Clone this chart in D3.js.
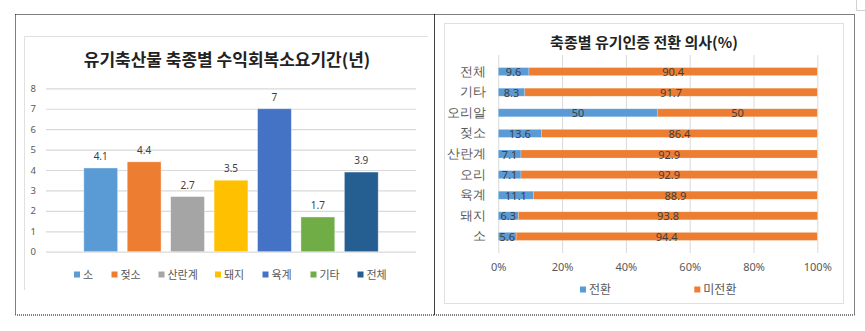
<!DOCTYPE html>
<html>
<head>
<meta charset="utf-8">
<script src="https://cdn.jsdelivr.net/npm/d3@7"></script>
<style>
  html, body { margin: 0; padding: 0; background: #fff; }
  svg { display: block; font-family: "Noto Sans CJK KR", "Noto Sans", sans-serif; }
</style>
</head>
<body>
<svg id="chart" width="865" height="331"></svg>
<script>
// Left chart: years needed to recover income, by livestock type
const recoveryCategories = ["소", "젖소", "산란계", "돼지", "육계", "기타", "전체"];
const recoveryYears = [4.1, 4.4, 2.7, 3.5, 7, 1.7, 3.9];
const recoveryColors = ["#5B9BD5", "#ED7D31", "#A5A5A5", "#FFC000", "#4472C4", "#70AD47", "#255E91"];
const recoveryTicks = [0, 1, 2, 3, 4, 5, 6, 7, 8];

// Right chart: intention to convert to organic certification (%)
const intentCategories = ["전체", "기타", "오리알", "젖소", "산란계", "오리", "육계", "돼지", "소"];
const convertPct = [9.6, 8.3, 50, 13.6, 7.1, 7.1, 11.1, 6.3, 5.6];
const notConvertPct = [90.4, 91.7, 50, 86.4, 92.9, 92.9, 88.9, 93.8, 94.4];
const intentSeries = ["전환", "미전환"];
const intentColors = ["#5B9BD5", "#ED7D31"];
const pctTicks = [0, 20, 40, 60, 80, 100];

const svg = d3.select("#chart");
const textGray = "#595959";
const labelGray = "#404040";
const gridGray = "#d9d9d9";

// Dotted outer frames
const frame = svg.append("g").attr("fill", "none").attr("stroke", "#000")
  .attr("stroke-width", 1).attr("stroke-dasharray", "1,1");
frame.append("rect").attr("x", 15.5).attr("y", 14.5).attr("width", 419).attr("height", 300.5);
frame.append("rect").attr("x", 434.5).attr("y", 14.5).attr("width", 420).attr("height", 300.5);

// small corner mark at top right
svg.append("path").attr("d", "M856.5,0 V10.5 H865").attr("fill", "none").attr("stroke", "#d0d0d0");

// ---------- Left chart ----------
const L = svg.append("g");
L.append("path").attr("d", "M24.5,290 V36.5 H428").attr("fill", "none").attr("stroke", "#e0e0e0");

L.append("text").attr("x", 227).attr("y", 66).attr("text-anchor", "middle")
  .attr("font-size", 17).attr("font-weight", "bold").attr("fill", "#222")
  .text("유기축산물 축종별 수익회복소요기간(년)");

const yL = d3.scaleLinear().domain([0, 8]).range([251.7, 88.3]);
const xL = d3.scaleBand().domain(recoveryCategories).range([46, 416])
  .paddingInner(0.22).paddingOuter(0.87);

const yAxisL = L.append("g").attr("transform", "translate(46,0)")
  .call(d3.axisLeft(yL).tickValues(recoveryTicks).tickSize(-370).tickFormat(d3.format("d")));
yAxisL.select(".domain").remove();
yAxisL.selectAll(".tick line").attr("stroke", gridGray).attr("stroke-width", 1.2);
yAxisL.selectAll(".tick text").attr("x", -10).attr("fill", textGray)
  .attr("font-size", 9.5).attr("font-family", "Noto Sans, sans-serif");

L.append("g").selectAll("rect").data(recoveryYears).join("rect")
  .attr("x", (d, i) => xL(recoveryCategories[i]))
  .attr("y", d => yL(d))
  .attr("width", xL.bandwidth())
  .attr("height", d => yL(0) - yL(d))
  .attr("fill", (d, i) => recoveryColors[i])
  .attr("stroke", "#fff").attr("stroke-opacity", 0.5).attr("stroke-width", 0.8);

L.append("g").selectAll("text").data(recoveryYears).join("text")
  .attr("x", (d, i) => xL(recoveryCategories[i]) + xL.bandwidth() / 2)
  .attr("y", d => yL(d) - 8)
  .attr("text-anchor", "middle").attr("font-size", 10)
  .attr("font-family", "Noto Sans, sans-serif").attr("fill", labelGray)
  .text(d => d);

const legL = L.append("g");
const legLx = [74, 111.5, 158.5, 215, 262.5, 310.5, 357.5];
recoveryCategories.forEach((c, i) => {
  const g = legL.append("g").attr("transform", `translate(${legLx[i]},274.5)`);
  g.append("rect").attr("x", 0).attr("y", -3).attr("width", 6).attr("height", 6).attr("fill", recoveryColors[i]);
  g.append("text").attr("x", 9).attr("y", 4).attr("font-size", 11).attr("fill", textGray).text(c);
});

// ---------- Right chart ----------
const R = svg.append("g");
R.append("rect").attr("x", 444.5).attr("y", 23.5).attr("width", 399).attr("height", 280)
  .attr("fill", "none").attr("stroke", "#e0e0e0");

R.append("text").attr("x", 644).attr("y", 48).attr("text-anchor", "middle")
  .attr("font-size", 15).attr("font-weight", "bold").attr("fill", "#222")
  .text("축종별 유기인증 전환 의사(%)");

const xR = d3.scaleLinear().domain([0, 100]).range([498.3, 817.3]);
const yR = d3.scaleBand().domain(intentCategories).range([55, 253]).padding(0.61);

const xAxisR = R.append("g").attr("transform", "translate(0,253)")
  .call(d3.axisBottom(xR).tickValues(pctTicks).tickSize(-198).tickFormat(d => d + "%"));
xAxisR.select(".domain").remove();
xAxisR.selectAll(".tick line").attr("stroke", gridGray).attr("stroke-width", 1);
xAxisR.selectAll(".tick text").attr("y", 10).attr("fill", textGray)
  .attr("font-size", 11).attr("font-family", "Noto Sans, sans-serif");

const stackData = intentCategories.map((c, i) => ({ cat: c, "전환": convertPct[i], "미전환": notConvertPct[i] }));
const stacked = d3.stack().keys(intentSeries)(stackData);

const layers = R.append("g").selectAll("g").data(stacked).join("g")
  .attr("fill", (d, i) => intentColors[i]);
layers.selectAll("rect").data(d => d).join("rect")
  .attr("x", d => xR(d[0]))
  .attr("y", d => yR(d.data.cat))
  .attr("width", d => xR(d[1]) - xR(d[0]))
  .attr("height", yR.bandwidth())
  .attr("stroke", "#fff").attr("stroke-opacity", 0.35).attr("stroke-width", 0.6);

layers.selectAll("text").data(d => d.map(v => ({ v, key: d.key }))).join("text")
  .attr("x", d => (xR(d.v[0]) + xR(d.v[1])) / 2)
  .attr("y", d => yR(d.v.data.cat) + yR.bandwidth() / 2 + 4.5)
  .attr("text-anchor", "middle").attr("font-size", 11)
  .attr("font-family", "Noto Sans, sans-serif").attr("fill", labelGray)
  .text(d => d.v.data[d.key]);

const yAxisR = R.append("g").attr("transform", "translate(498.3,0)")
  .call(d3.axisLeft(yR).tickSize(0));
yAxisR.select(".domain").remove();
yAxisR.selectAll(".tick text").attr("x", -12).attr("fill", textGray).attr("font-size", 12.5);

const legR = R.append("g");
const legRx = [580, 694.3];
intentSeries.forEach((s, i) => {
  const g = legR.append("g").attr("transform", `translate(${legRx[i]},289.5)`);
  g.append("rect").attr("x", 0).attr("y", -3).attr("width", 6).attr("height", 6).attr("fill", intentColors[i]);
  g.append("text").attr("x", 9).attr("y", 4.5).attr("font-size", 12).attr("fill", textGray).text(s);
});
</script>
</body>
</html>
